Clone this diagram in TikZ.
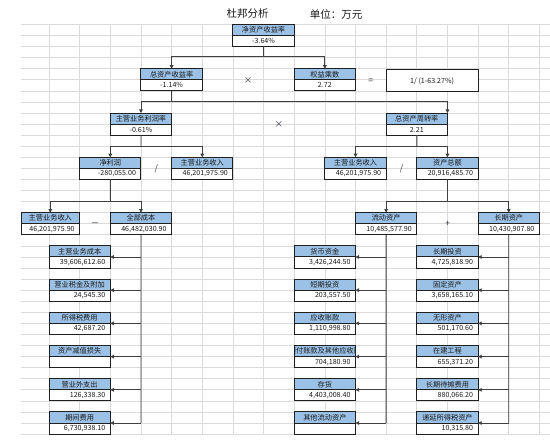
\documentclass[tikz,border=0pt]{standalone}
\usepackage{fontspec}
\setmainfont{Noto Sans CJK SC}
\usetikzlibrary{arrows.meta}
\definecolor{hdrblue}{HTML}{9BC2E6}
\definecolor{boxc}{HTML}{202020}
\definecolor{linec}{HTML}{404040}
\definecolor{gridc}{HTML}{DADADA}
\definecolor{txtc}{HTML}{1A1A1A}
\definecolor{opc}{HTML}{303040}
\newcommand\hdrfont{\fontsize{7.2}{8}\selectfont}
\newcommand\valfont{\fontsize{7.1}{8}\selectfont}
\newcommand\dpbox[7]{%
 \pgfmathsetmacro\dpx{18.35+30.65*#2}%
 \pgfmathsetmacro\dpw{30.65*(#3-#2)}%
 \pgfmathsetmacro\dptw{\dpw-10}%
 \pgfmathsetmacro\dpy{24.5+11.07*#4}%
 \node[hdr,minimum width=\dpw pt] (#1h) at (\dpx,\dpy) {#5};
 \node[val,text width=\dptw pt,align=#7] (#1v) at (\dpx,\dpy+11.07) {#6};
}
\begin{document}
\begin{tikzpicture}[x=1pt,y=-1pt,
  hdr/.style={draw=boxc,fill=hdrblue,line width=1pt,inner sep=0pt,minimum height=11.07pt,anchor=north west,outer sep=0pt,font=\hdrfont,text=txtc},
  val/.style={draw=boxc,fill=white,line width=1pt,inner xsep=5pt,inner ysep=0pt,minimum height=11.07pt,anchor=north west,outer sep=0pt,font=\valfont,text=txtc},
  gridln/.style={draw=gridc,line width=.7pt},
  ln/.style={draw=linec,line width=.9pt},
  arr/.style={draw=linec,line width=.9pt,-{Triangle[length=3.6pt,width=3.6pt]}},
  op/.style={font=\fontsize{8.5}{9}\selectfont,text=opc,inner sep=0pt},
  ttl/.style={font=\fontsize{10.5}{12}\selectfont,text=txtc,inner sep=0pt}]
\useasboundingbox[fill=white] (0,0) rectangle (550,441);
% grid
\foreach \k in {0,...,37} \draw[gridln] (21,{24.5+11.07*\k}) -- (550,{24.5+11.07*\k});
\foreach \j in {1,...,17} \draw[gridln] ({18.35+30.65*\j},24.5) -- ({18.35+30.65*\j},{24.5+11.07*37});
% title
\node[ttl] (title) at (247.5,14) {杜邦分析};
\node[ttl] (unit) at (336,14) {单位：万元};
% boxes
\dpbox{roe}{7}{9}{0}{净资产收益率}{-3.64\%}{center}
\dpbox{roa}{4}{6}{4}{总资产收益率}{-1.14\%}{center}
\dpbox{em}{9}{11}{4}{权益乘数}{2.72}{center}
\node[draw=boxc,fill=white,line width=1pt,inner sep=0pt,outer sep=0pt,anchor=north west,minimum width=91.95pt,minimum height=22.14pt,font=\valfont,text=txtc] (ratio) at (386.15,69.78) {1/ (1-63.27\%)};
\dpbox{pm}{3}{5}{8}{主营业务利润率}{-0.61\%}{center}
\dpbox{tat}{12}{14}{8}{总资产周转率}{2.21}{center}
\dpbox{np}{2}{4}{12}{净利润}{-280,055.00}{right}
\dpbox{rev}{5}{7}{12}{主营业务收入}{46,201,975.90}{right}
\dpbox{revb}{10}{12}{12}{主营业务收入}{46,201,975.90}{right}
\dpbox{ta}{13}{15}{12}{资产总额}{20,916,485.70}{right}
\dpbox{revc}{0.0865}{2}{17}{主营业务收入}{46,201,975.90}{right}
\dpbox{tc}{3}{5}{17}{全部成本}{46,482,030.90}{right}
\dpbox{ca}{11}{13}{17}{流动资产}{10,485,577.90}{right}
\dpbox{nca}{15}{17}{17}{长期资产}{10,430,907.80}{right}
% cost items
\dpbox{ka}{1}{3}{20}{主营业务成本}{39,606,612.60}{right}
\dpbox{kb}{1}{3}{23}{营业税金及附加}{24,545.30}{right}
\dpbox{kc}{1}{3}{26}{所得税费用}{42,687.20}{right}
\dpbox{kd}{1}{3}{29}{资产减值损失}{}{right}
\dpbox{ke}{1}{3}{32}{营业外支出}{126,338.30}{right}
\dpbox{kf}{1}{3}{35}{期间费用}{6,730,938.10}{right}
% current assets
\dpbox{la}{9}{11}{20}{货币资金}{3,426,244.50}{right}
\dpbox{lb}{9}{11}{23}{短期投资}{203,557.50}{right}
\dpbox{lc}{9}{11}{26}{应收账款}{1,110,998.80}{right}
\dpbox{ld}{9}{11}{29}{}{704,180.90}{right}
\begin{scope}
\clip (ldh.south west) rectangle (ldh.north east);
\node[font=\hdrfont,text=txtc,inner sep=0pt] (ldt) at (ldh.center) {预付账款及其他应收款};
\end{scope}
\draw[draw=boxc,line width=1pt] (ldh.south west) rectangle (ldh.north east);
\dpbox{le}{9}{11}{32}{存货}{4,403,008.40}{right}
\dpbox{lf}{9}{11}{35}{其他流动资产}{}{right}
% non-current assets
\dpbox{ma}{13}{15}{20}{长期投资}{4,725,818.90}{right}
\dpbox{mb}{13}{15}{23}{固定资产}{3,658,165.10}{right}
\dpbox{mc}{13}{15}{26}{无形资产}{501,170.60}{right}
\dpbox{md}{13}{15}{29}{在建工程}{655,371.20}{right}
\dpbox{me}{13}{15}{32}{长期待摊费用}{880,066.20}{right}
\dpbox{mf}{13}{15}{35}{递延所得税资产}{10,315.80}{right}
% operators
\node[op] (o1) at (248,80.9) {×};
\node[op] (o2) at (370.8,80.9) {=};
\node[op] (o3) at (278.9,124.1) {×};
\node[op] (o4) at (156.3,168.4) {/};
\node[op] (o5) at (401.5,168.4) {/};
\node[op] (o6) at (95,224.5) {－};
\node[op] (o7) at (447.8,224) {+};
% connectors
\coordinate (j1) at (263.55,56.5);
\draw[ln] (roev.south) -- (j1);
\draw[arr] (j1) -| (roah.north);
\draw[arr] (j1) -| (emh.north);
\coordinate (j2) at (171.6,101.8);
\draw[ln] (roav.south) -- (j2);
\draw[arr] (j2) -| (pmh.north);
\draw[arr] (j2) -| (tath.north east);
\coordinate (j3) at (140.95,146.6);
\draw[ln] (pmv.south) -- (j3);
\draw[arr] (j3) -| (nph.north);
\draw[arr] (j3) -| (revh.north);
\coordinate (j4) at (416.8,146.6);
\draw[ln] (tatv.south) -- (j4);
\draw[arr] (j4) -| (revbh.north);
\draw[arr] (j4) -| (tah.north);
\coordinate (j5) at (110.3,201.7);
\draw[ln] (npv.south) -- (j5);
\draw[arr] (j5) -| (revch.north);
\draw[arr] (j5) -| (tch.north);
\coordinate (j6) at (447.45,201.7);
\draw[ln] (tav.south) -- (j6);
\draw[arr] (j6) -| (cah.north);
\draw[arr] (j6) -| (ncah.north);
% spines
\coordinate (s1) at (140.95,423);
\draw[ln] (tcv.south) -- (s1);
\foreach \b in {ka,kb,kc,kd,ke,kf} \draw[arr] (s1 |- \b h.south east) -- (\b h.south east);
\coordinate (s2) at (386.15,423);
\draw[ln] (cav.south) -- (s2);
\foreach \b in {la,lb,lc,ld,le,lf} \draw[arr] (s2 |- \b h.south east) -- (\b h.south east);
\coordinate (s3) at (508.75,423);
\draw[ln] (ncav.south) -- (s3);
\foreach \b in {ma,mb,mc,md,me,mf} \draw[arr] (s3 |- \b h.south east) -- (\b h.south east);
\end{tikzpicture}
\end{document}
